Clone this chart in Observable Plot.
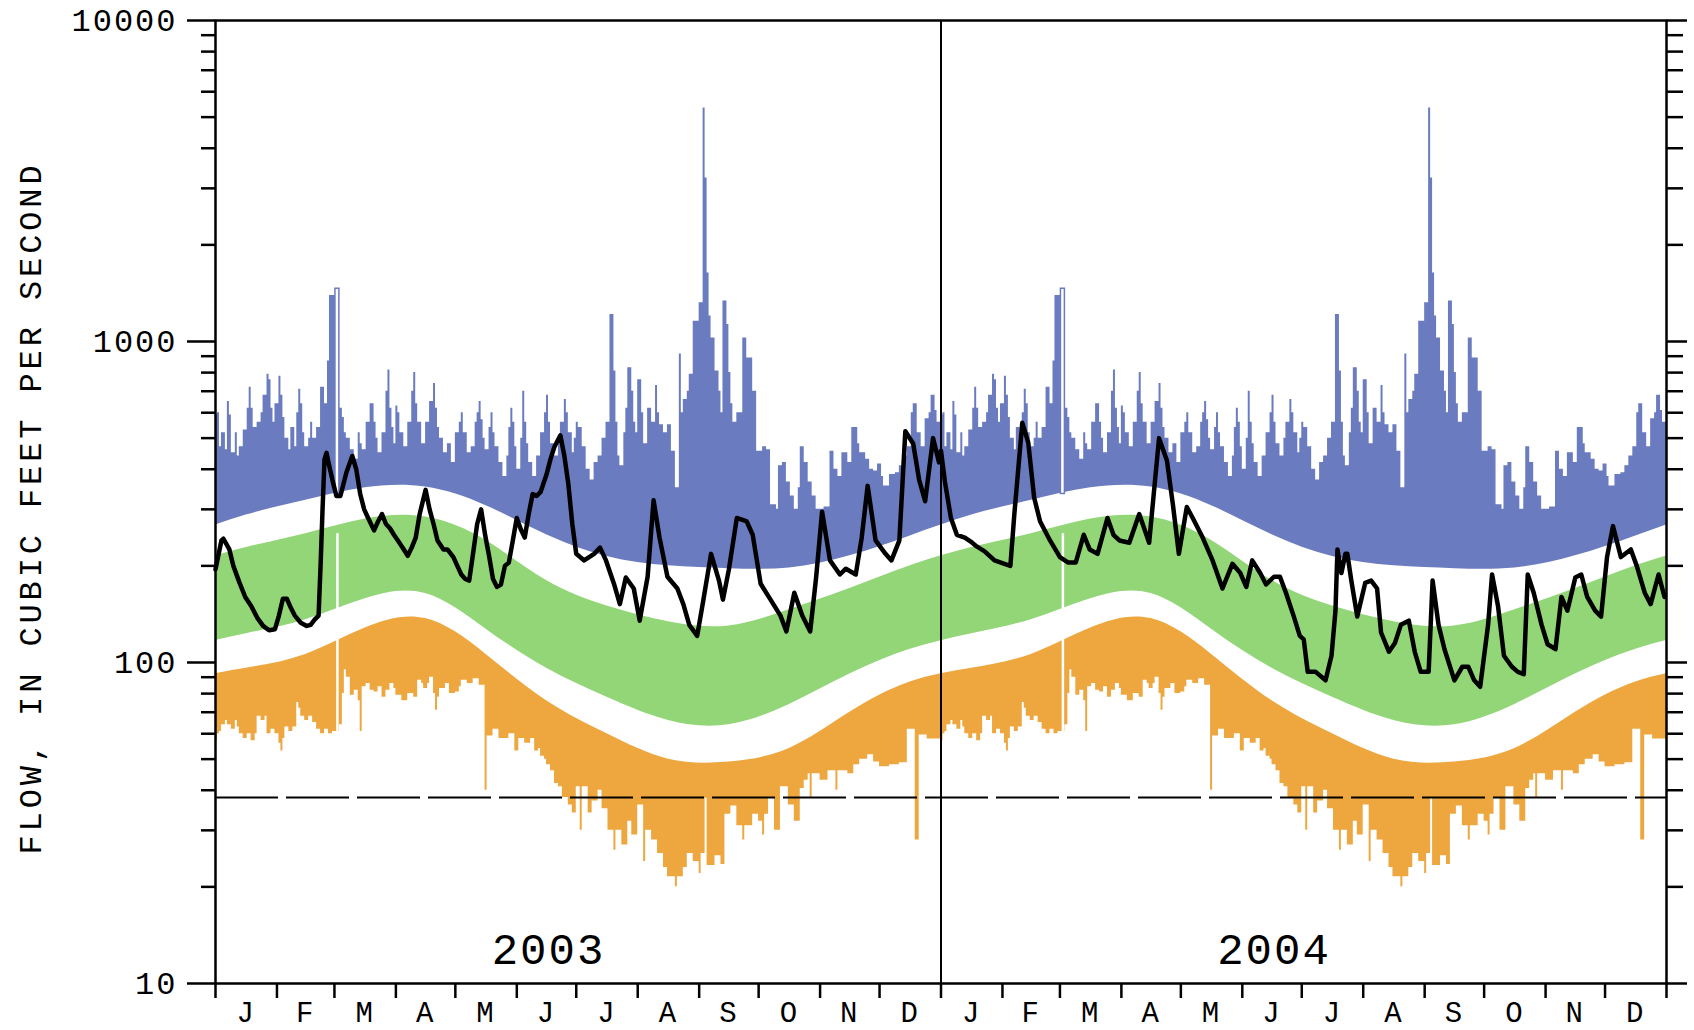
<!DOCTYPE html>
<html><head><meta charset="utf-8">
<script src="https://cdn.jsdelivr.net/npm/d3@7"></script>
<script src="https://cdn.jsdelivr.net/npm/@observablehq/plot@0.6"></script>
<style>
html,body{margin:0;padding:0;background:#fff;}
#chart svg text{letter-spacing:2px;}
</style></head><body><div id="chart"></div>
<script>
// ---- categories / ticks ----
const monthBounds = [0,31,60,91,121,152,182,213,244,274,305,335,366]; // 366 day-slots per year
const monthLetters = ["J","F","M","A","M","J","J","A","S","O","N","D"];
const years = ["2003","2004"];
const yMajor = [10,100,1000,10000];
const yMinor = [20,30,40,50,60,70,80,90,200,300,400,500,600,700,800,900,2000,3000,4000,5000,6000,7000,8000,9000];
const yTitle = "FLOW, IN CUBIC FEET PER SECOND";

// ---- smooth daily-statistic bands (mid-month values, cfs) ----
const bandUpper   = [288,320,350,352,308,250,214,200,196,197,215,248]; // lower edge of blue (max) band
const greenTop    = [228,252,280,284,240,180,150,134,130,146,170,200];
const greenBottom = [123,136,158,164,127,96,78,66,64,74,92,110];
const orangeTop   = [96,106,128,137,106,76,60,50,49,54,70,87];

// ---- daily maximum (blue), [day-slot, cfs] ----
const blueMax = [[0,590],[1,600],[2,470],[3,520],[5,460],[6,650],[7,590],[8,450],[10,520],[11,440],[12,470],[14,530],[16,620],[17,720],[18,620],[19,540],[21,560],[23,600],[24,680],[26,790],[27,760],[28,620],[29,560],[30,640],[32,780],[33,680],[34,580],[35,500],[37,460],[38,540],[40,470],[41,600],[42,710],[43,640],[44,520],[45,470],[47,500],[48,560],[49,500],[51,540],[53,720],[55,640],[56.5,870],[57.5,1390],[60.5,100],[62.5,620],[64,580],[65,520],[66,500],[68,460],[70,430],[72,520],[73,480],[74,460],[76,560],[78,640],[80,560],[81,500],[82,450],[84,520],[86,700],[87,815],[88,620],[89,540],[90,480],[91,630],[92,600],[93,520],[95,470],[97,560],[99,700],[100,800],[101,640],[102,560],[104,480],[106,560],[108,650],[110,740],[111,620],[112,540],[113,500],[115,450],[117,480],[119,420],[121,520],[123,560],[124,600],[125,520],[127,450],[129,470],[131,560],[132,600],[133,650],[134,570],[135,500],[136,460],[138,540],[139,600],[140,520],[141,470],[143,420],[145,380],[147,440],[148,540],[149,620],[150,560],[151,470],[152,400],[154,500],[155,700],[156,560],[157,480],[158,420],[160,380],[162,440],[164,520],[166,600],[167,680],[168,560],[169,480],[171,440],[173,500],[174,560],[176,660],[177,600],[178,520],[180,450],[181,500],[182,560],[183,540],[185,470],[187,400],[189,370],[191,420],[193,440],[195,500],[197,560],[199,1214],[201,809],[202,560],[203,440],[204,410],[206,520],[207,620],[208,828],[210,700],[211,560],[212,520],[213,760],[215,600],[216,480],[218,620],[220,560],[222,729],[223,600],[224,550],[226,520],[228,550],[230,455],[232,350],[234,914],[235,600],[236,660],[238,700],[239,790],[241,1156],[244,1320],[246,5337],[247,3230],[248,1636],[249,1200],[250,1026],[252,809],[254,700],[255,600],[256,1337],[258,1130],[259,800],[260,640],[261,560],[263,600],[266,1026],[268,889],[271,700],[273,455],[276,470],[278,460],[280,310],[283,300],[284,410],[286,420],[288,365],[290,330],[292,300],[294,350],[295,470],[297,420],[299,365],[301,330],[303,300],[307,305],[310,455],[312,400],[314,380],[316,450],[319,420],[321,540],[324,480],[325,450],[328,430],[330,400],[332,395],[334,415],[336,380],[337,355],[340,385],[343,390],[345,410],[347,440],[349,470],[351,600],[352,640],[354,520],[356,470],[358,575],[360,600],[361,680],[363,610],[364,560],[366,560]];

// ---- daily minimum (orange), [day-slot, cfs] ----
const orangeMin = [[0,57],[1,60],[2,61],[3,64],[5,66],[6,64],[8,62],[10,66],[11,63],[12,60],[14,58],[16,60],[18,57],[20,60],[21,68],[23,66],[25,68],[26,60],[28,62],[30,60],[32,56],[33,53],[34,58],[35,63],[37,61],[39,63],[41,75],[42,72],[43,68],[45,66],[47,68],[49,65],[51,62],[53,60],[55,62],[57,60],[59,61],[62.5,64],[64,80],[65,95],[66,90],[68,79],[70,82],[72,76],[73,61],[74,84],[76,86],[78,82],[80,81],[82,84],[84,78],[86,82],[88,86],[90,83],[91,79],[94,76],[97,80],[100,78],[102,88],[104,86],[105,83],[107,86],[108,90],[110,80],[111,71],[112,78],[113,83],[116,86],[118,80],[121,81],[123,84],[124,88],[127,86],[130,89],[133,85],[136,40],[137,59],[140,62],[143,58],[146,58],[148,60],[151,53],[153,58],[156,56],[159,58],[161,53],[163,54],[164,51],[166,50],[167,48],[169,46],[171,42],[173,41],[175,38],[178,36],[180,34],[182,41],[184,30],[185,41],[188,34],[190,37],[193,40],[195,35],[198,30],[201,26],[202,30],[205,27],[208,32],[210,29],[213,36],[216,24],[217,30],[220,28],[223,25.4],[226,23],[228,21.5],[232,20],[233,21.5],[236,23],[238,25.4],[241,24],[244,22],[245,25.4],[247,37.8],[248,23.3],[252,25],[255,23.5],[257,33.7],[260,35.7],[263,31],[266,28],[267,31],[271,33.7],[274,32],[276,29],[277,33.7],[279,37.8],[282,30],[285,41],[289,36],[292,32],[295,40.5],[297,43],[299,45],[300,38],[301,45],[305,43],[309,46],[313,40],[314,46],[319,45],[322,48],[325,50],[329,51.6],[332,49],[335,47.3],[340,48],[345,48.7],[349,62],[353,28],[355,59.5],[359,57.8],[366,57.8]];

// ---- Feb-29 slot statistics ----
const leapSlot = {x1:60.5, x2:62.5, low:335, high:1460, gap:61.5, gapLow:61, gapHigh:252};

// ---- observed daily flow (black), [day-slot, cfs] ----
const flow2003 = [[0,195],[3,240],[4,243],[7,225],[9,200],[12,178],[15,160],[18,150],[21,138],[24,130],[27,126],[30,127],[32,140],[34,158],[36,158],[38,148],[40,140],[43,133],[46,130],[48,131],[50,136],[52,140],[53,200],[54,300],[55,430],[56,450],[57,420],[59,370],[61,330],[63,330],[66,390],[69,440],[71,400],[73,335],[75,300],[77,282],[80,258],[82,275],[84,290],[86,270],[88,262],[90,250],[92,240],[95,225],[97,215],[99,228],[101,245],[103,290],[106,345],[108,300],[110,270],[112,240],[115,225],[117,225],[120,213],[122,200],[124,188],[126,182],[128,180],[130,220],[132,270],[134,300],[136,250],[138,215],[140,182],[142,172],[144,175],[146,200],[148,205],[150,240],[152,282],[154,260],[156,245],[158,290],[160,335],[162,330],[164,340],[167,385],[169,430],[171,470],[174,510],[176,440],[178,360],[180,270],[182,218],[186,208],[191,218],[194,228],[197,208],[201,176],[204,152],[207,184],[211,170],[214,135],[218,185],[221,320],[224,245],[228,185],[233,170],[236,152],[239,131],[243,121],[246,155],[250,218],[254,180],[256,157],[259,195],[263,282],[268,275],[271,250],[275,176],[280,157],[285,140],[288,125],[292,165],[296,140],[300,125],[303,184],[306,295],[310,208],[315,188],[318,196],[323,188],[326,245],[329,355],[333,240],[338,218],[341,208],[345,240],[348,525],[352,480],[355,370],[358,318],[362,500],[365,420]];
const flow2004 = [[0,457],[2,365],[5,282],[8,250],[12,245],[15,238],[18,230],[22,222],[27,208],[32,203],[35,200],[37,290],[41,558],[44,485],[47,326],[50,275],[55,240],[60,213],[64,205],[68,205],[72,250],[75,225],[79,218],[84,282],[87,250],[90,240],[95,236],[100,290],[105,236],[110,500],[114,425],[117,310],[120,218],[124,305],[127,282],[132,245],[137,208],[142,170],[147,203],[151,190],[154,172],[157,208],[161,190],[164,175],[168,185],[171,185],[174,165],[178,139],[181,121],[183,118],[185,93.5],[189,93.5],[194,88],[197,105],[199,145],[200,225],[202,190],[204,218],[205,218],[207,180],[210,139],[214,177],[217,180],[220,170],[222,124],[226,108],[229,115],[232,131],[236,135],[239,108],[242,93.5],[246,93.5],[248,180],[251,131],[254,110],[259,88],[263,97],[266,97],[269,88],[272,84],[276,131],[278,188],[281,150],[284,105],[288,97],[291,93.5],[294,92],[296,188],[299,165],[303,131],[306,114],[310,110],[313,160],[316,145],[320,184],[323,188],[326,160],[330,145],[333,139],[336,213],[339,266],[343,213],[348,225],[351,200],[355,165],[358,152],[362,188],[365,160]];

const dashedFlow = 38;
const yearLabelSlot = 168;
const yearLabelFlow = 12.7;

// ---- derived tables ----
const N = 366;
const monthMid = monthBounds.slice(0,-1).map((b,i) => (b + monthBounds[i+1]) / 2);
const smooth = [];
for (let k = -1; k <= 2; k++) for (let m = 0; m < 12; m++)
  smooth.push({x: k*N + monthMid[m], bb: bandUpper[m], gt: greenTop[m], gb: greenBottom[m], ot: orangeTop[m]});
const blueSeries = years.flatMap((y,k) => blueMax.map(([d,v]) => ({x: k*N + d, v})));
const orangeSeries = years.flatMap((y,k) => orangeMin.map(([d,v]) => ({x: k*N + d, v})));
const leaps = years.map((y,k) => ({x1: k*N + leapSlot.x1, x2: k*N + leapSlot.x2, low: leapSlot.low, high: leapSlot.high, gx: k*N + leapSlot.gap, gLow: leapSlot.gapLow, gHigh: leapSlot.gapHigh}));
const flows = [...flow2003.map(([d,v]) => ({x: d, v})), ...flow2004.map(([d,v]) => ({x: N + d, v}))];
const tickSlots = Array.from(new Set(years.flatMap((y,k) => monthBounds.map(b => k*N + b))));
const midSlots = years.flatMap((y,k) => monthMid.map(m => k*N + m));
const yearBreaks = years.slice(1).map((y,k) => (k+1)*N);

const BLUE = "#6a7bbf", GREEN = "#93d678", ORANGE = "#eea73e";

const chart = Plot.plot({
  width: 1694, height: 1030,
  marginLeft: 215, marginRight: 28, marginTop: 20, marginBottom: 47,
  style: {fontFamily: "'Liberation Mono', 'DejaVu Sans Mono', monospace", fontSize: "32px", background: "white", color: "black"},
  x: {type: "linear", domain: [0, 2*N]},
  y: {type: "log", domain: [10, 10000]},
  marks: [
    Plot.areaY(blueSeries, {x: "x", y1: 1, y2: "v", curve: "step-after", fill: BLUE, clip: true}),
    Plot.areaY(smooth, {x: "x", y1: 1, y2: "bb", curve: "natural", fill: "white", clip: true}),
    Plot.areaY(smooth, {x: "x", y1: "gb", y2: "gt", curve: "natural", fill: GREEN, clip: true}),
    Plot.areaY(smooth, {x: "x", y1: 1, y2: "ot", curve: "natural", fill: ORANGE, clip: true}),
    Plot.areaY(orangeSeries, {x: "x", y1: 1, y2: "v", curve: "step-after", fill: "white", clip: true}),
    Plot.ruleX(leaps, {x: "gx", y1: "gLow", y2: "gHigh", stroke: "white", strokeWidth: 2.5}),
    Plot.rect(leaps, {x1: "x1", x2: "x2", y1: "low", y2: "high", fill: "white", stroke: BLUE, strokeWidth: 1.5}),
    Plot.ruleY([dashedFlow], {stroke: "black", strokeWidth: 2, strokeDasharray: "63,8"}),
    Plot.ruleX(yearBreaks, {stroke: "black", strokeWidth: 2}),
    Plot.line(flows, {x: "x", y: "v", stroke: "black", strokeWidth: 4.5, strokeLinejoin: "round"}),
    Plot.frame({stroke: "black", strokeWidth: 2.5}),
    Plot.axisY({ticks: yMajor, tickSize: 28, tickPadding: 10, tickFormat: d => String(d), label: null, strokeWidth: 2.5, fontSize: 32}),
    Plot.axisY({ticks: yMinor, tickSize: 14, tickFormat: () => "", label: null, strokeWidth: 2.5}),
    Plot.axisY({anchor: "right", ticks: yMajor, tickSize: 20, tickFormat: () => "", label: null, strokeWidth: 2.5}),
    Plot.axisY({anchor: "right", ticks: yMinor, tickSize: 16, tickFormat: () => "", label: null, strokeWidth: 2.5}),
    Plot.axisX({ticks: tickSlots, tickSize: 15, tickFormat: () => "", label: null, strokeWidth: 2.5}),
    Plot.axisX({ticks: midSlots, tickSize: 0, tickPadding: 18, tickFormat: d => monthLetters[midSlots.indexOf(d) % 12], label: null, fontSize: 29}),
    Plot.text(years, {x: (d,i) => i*N + yearLabelSlot, y: () => yearLabelFlow, text: d => d, fontSize: 44, fill: "black"}),
    Plot.text([yTitle], {frameAnchor: "left", textAnchor: "middle", dx: -185, dy: 6, rotate: -90, fontSize: 32, fill: "black"})
  ]
});
d3.select(chart).selectAll("text").filter(function() { return this.textContent === yTitle; }).style("letter-spacing", "3.9px");
document.getElementById("chart").appendChild(chart);
</script></body></html>
